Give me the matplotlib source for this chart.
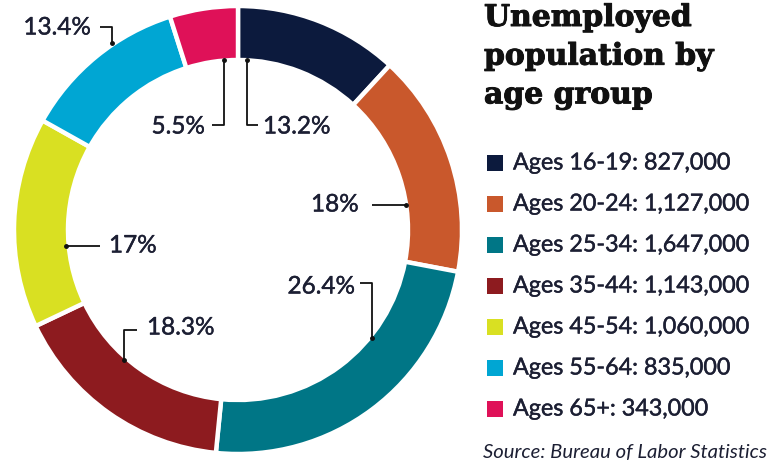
import matplotlib

matplotlib.use("Agg")
import matplotlib.pyplot as plt
import matplotlib.patheffects as pe

W, H = 776, 465

age_groups = ["16-19", "20-24", "25-34", "35-44", "45-54", "55-64", "65+"]
unemployed = [827000, 1127000, 1647000, 1143000, 1060000, 835000, 343000]
pct_labels = ["13.2%", "18%", "26.4%", "18.3%", "17%", "13.4%", "5.5%"]
colors = ["#0c1a3d", "#c9582c", "#007686", "#8d1b1f", "#d9e022", "#00a6d3", "#df1158"]

TEXT = "#1c1f33"
LABEL_FONT = ["Lato", "DejaVu Sans"]
heavy = [pe.withStroke(linewidth=0.3, foreground=TEXT)]

# label layout in pixel coords: text anchor, alignment, leader path
label_layout = [
    ((263, 127), "left", [(247, 60), (247, 125), (258, 125)]),
    ((311, 205), "left", [(406, 205), (372, 205)]),
    ((355, 287), "right", [(372, 338), (372, 283), (360, 283)]),
    ((147, 328), "left", [(124, 360), (124, 330), (137, 330)]),
    ((109, 246), "left", [(66, 246), (100, 246)]),
    ((91, 28), "right", [(112, 43), (112, 27), (100, 27)]),
    ((205, 127), "right", [(224, 60), (224, 125), (212, 125)]),
]


def Y(y):
    return H - y


fig = plt.figure(figsize=(W / 100, H / 100), dpi=100)
ax = fig.add_axes([0, 0, 1, 1])

cx, cy, r_out, r_in = 238, 230, 224, 170
ax.pie(unemployed, colors=colors, startangle=90, counterclock=False,
       center=(cx, Y(cy)), radius=r_out, frame=True,
       wedgeprops=dict(width=r_out - r_in, edgecolor="white", linewidth=3.2))

for txt, ((tx, ty), ha, path) in zip(pct_labels, label_layout):
    xs = [p[0] for p in path]
    ys = [Y(p[1]) for p in path]
    ax.plot(xs, ys, color="#111111", lw=1.3, solid_capstyle="butt")
    ax.plot(xs[0], ys[0], "o", color="#111111", ms=2.5)
    ax.text(tx, Y(ty), txt, ha=ha, va="center", fontsize=17.5,
            color=TEXT, family=LABEL_FONT, path_effects=heavy)

# title
ax.text(484, Y(3), "Unemployed\npopulation by\nage group", ha="left", va="top",
        fontsize=21.5, fontweight="bold", family="DejaVu Serif", color="#111111",
        linespacing=1.42, path_effects=[pe.withStroke(linewidth=0.7, foreground="#111111")])

# legend
leg_y = [163, 204, 245, 286, 327, 368, 409]
for grp, n, col, y in zip(age_groups, unemployed, colors, leg_y):
    ax.add_patch(plt.Rectangle((487, Y(y) - 8), 16, 16, color=col, lw=0))
    ax.text(513, Y(y), f"Ages {grp}: {n:,}", ha="left", va="center",
            fontsize=16.8, color=TEXT, family=LABEL_FONT, path_effects=heavy)

ax.text(483, Y(452), "Source: Bureau of Labor Statistics", ha="left", va="center",
        fontsize=14.6, style="italic", color=TEXT, family=LABEL_FONT)

ax.set_xlim(0, W)
ax.set_ylim(0, H)
ax.set_aspect("equal")
ax.axis("off")

fig.savefig("out.png", dpi=100)
